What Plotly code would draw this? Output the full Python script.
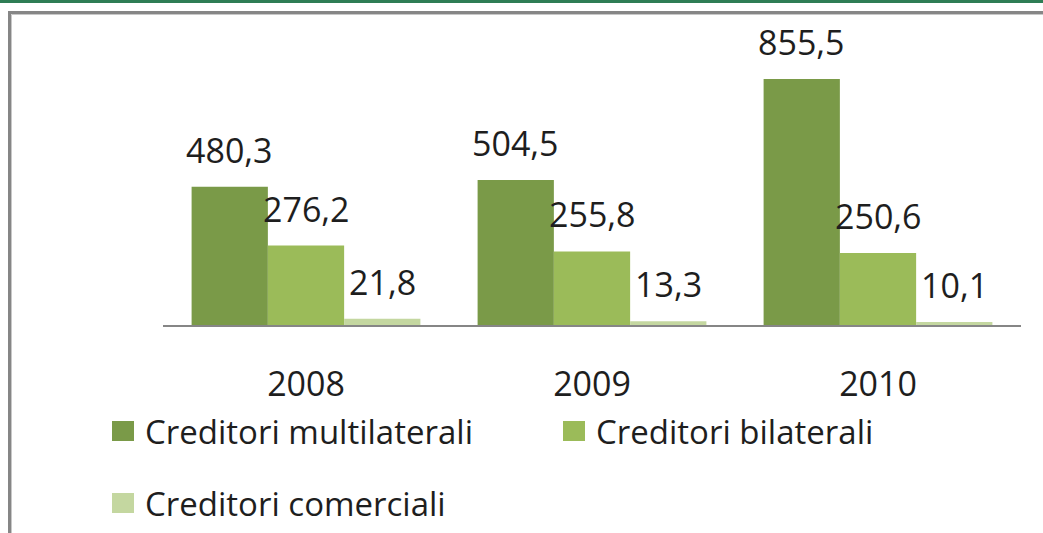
import plotly.graph_objects as go

YEARS = ["2008", "2009", "2010"]
SERIES = ["Creditori multilaterali", "Creditori bilaterali", "Creditori comerciali"]
MULTILATERALI = [480.3, 504.5, 855.5]
BILATERALI = [276.2, 255.8, 250.6]
COMERCIALI = [21.8, 13.3, 10.1]
COLORS = ["#7a9a48", "#9bbb59", "#c4d7a0"]

FONT = "Open Sans"
TEXT_COLOR = "#1e1e1e"

# plot area in pixels (1043x533 page)
W, H = 1043, 533
PX_L, PX_R, PX_T, PX_B = 163, 1021, 40, 325
BARGAP = 0.2


def px(x):
    return (x - PX_L) / (PX_R - PX_L)


def py(y):
    return (PX_B - y) / (PX_B - PX_T)


def fmt(v):
    return f"{v:.1f}".replace(".", ",")


values = [MULTILATERALI, BILATERALI, COMERCIALI]

fig = go.Figure()
for name, vals, col in zip(SERIES, values, COLORS):
    fig.add_trace(go.Bar(
        name=name, x=YEARS, y=vals, marker_color=col,
        marker_line_width=0, showlegend=False,
        hovertemplate="%{x}<br>" + name + ": %{y}<extra></extra>",
    ))

# data labels above each bar (x given as category index)
bar_w = (PX_R - PX_L) / len(YEARS) * (1 - BARGAP) / len(SERIES)
for s, vals in enumerate(values):
    for j, v in enumerate(vals):
        fig.add_annotation(
            x=j, y=v, xref="x", yref="y", text=fmt(v),
            showarrow=False, xanchor="center", yanchor="bottom",
            xshift=(s - 1) * bar_w, yshift=12,
            font=dict(family=FONT, size=34, color=TEXT_COLOR),
        )

# legend drawn by hand (two columns, wraps to a second row)
LEGEND_POS = [(112, 431), (563, 431), (112, 503)]
for name, col, (lx, ly) in zip(SERIES, COLORS, LEGEND_POS):
    fig.add_shape(type="rect", xref="paper", yref="paper",
                  x0=px(lx), x1=px(lx + 22), y0=py(ly - 10), y1=py(ly + 10),
                  fillcolor=col, line_width=0)
    fig.add_annotation(x=px(lx + 31), y=py(ly), xref="paper", yref="paper",
                       text=name, showarrow=False, xanchor="left", yanchor="middle",
                       font=dict(family=FONT, size=33, color=TEXT_COLOR))

# frame: green band at top, grey box border
fig.add_shape(type="rect", xref="paper", yref="paper",
              x0=px(-5), x1=px(W + 5), y0=py(3), y1=py(-5),
              fillcolor="#2e7d55", line_width=0, layer="below")
fig.add_shape(type="rect", xref="paper", yref="paper",
              x0=px(9.5), x1=px(W + 20), y0=py(H + 20), y1=py(12.5),
              fillcolor="rgba(0,0,0,0)", line=dict(color="#868686", width=3))
fig.add_shape(type="line", xref="paper", yref="paper",
              x0=px(11.5), x1=px(W + 20), y0=py(14.5), y1=py(14.5),
              line=dict(color="#c8c8c8", width=1))
fig.add_shape(type="line", xref="paper", yref="paper",
              x0=px(11.5), x1=px(11.5), y0=py(14.5), y1=py(H + 20),
              line=dict(color="#c8c8c8", width=1))

fig.update_layout(
    width=W, height=H,
    barmode="group", bargap=BARGAP, bargroupgap=0,
    paper_bgcolor="white", plot_bgcolor="white",
    margin=dict(l=PX_L, r=W - PX_R, t=PX_T, b=H - PX_B),
    xaxis=dict(type="category", range=[-0.5, len(YEARS) - 0.5],
               showline=True, linecolor="#868686", linewidth=2,
               showgrid=False, ticks="", ticklabelstandoff=28,
               tickfont=dict(family=FONT, size=34, color=TEXT_COLOR)),
    yaxis=dict(visible=False, range=[0, 991], showgrid=False, zeroline=False),
    showlegend=False,
)

fig.write_html("out.html", config={"displayModeBar": False},
               post_script="document.body.style.margin='0';")
